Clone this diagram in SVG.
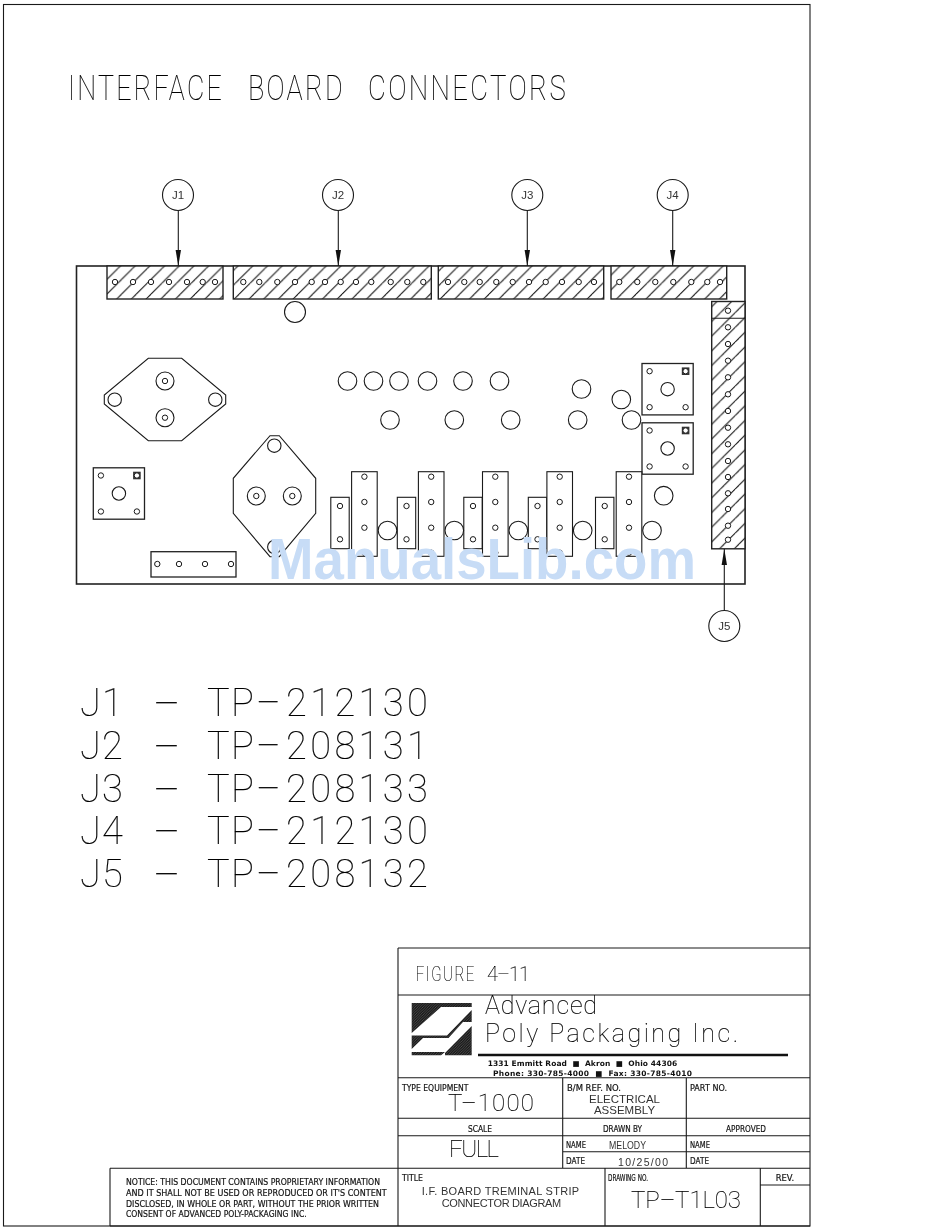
<svg xmlns="http://www.w3.org/2000/svg" width="950" height="1229" viewBox="0 0 950 1229">
<style>
.l{fill:none;stroke:#1a1a1a;stroke-width:1.1}
.b{fill:none;stroke:#222;stroke-width:1.6}
.w{fill:#fff;stroke:#1a1a1a;stroke-width:1.1}
.h{fill:url(#hatch);stroke:#222;stroke-width:1.4}
.d{fill:url(#fine)}
.thin{font-family:Roboto,"Liberation Sans",sans-serif;font-weight:100;fill:#000;stroke:#000;stroke-width:.15;white-space:pre;filter:url(#nop)}
.sans{font-family:"Liberation Sans",Arial,sans-serif;fill:#333;white-space:pre;filter:url(#nop)}
.cad{font-family:"DejaVu Sans",sans-serif;font-weight:400;fill:#111;stroke:#111;stroke-width:.2;white-space:pre;filter:url(#nop)}
.cadb{font-family:"DejaVu Sans",sans-serif;font-weight:700;fill:#111;white-space:pre;filter:url(#nop)}
.wm{font-family:"Liberation Sans",Arial,sans-serif;font-weight:700;fill:#c7dcf6}
.dash{font-size:42px}
.ls{letter-spacing:3px}
</style>
<defs>
<filter id="nop" x="-5%" y="-20%" width="110%" height="140%"><feOffset dx="0" dy="0"/></filter>
<pattern id="hatch" patternUnits="userSpaceOnUse" width="14.7" height="14.7"><rect width="14.7" height="14.7" fill="#fff"/><path d="M0 4.1L4.1 0M0 18.8L18.8 0" stroke="#111" stroke-width="1.1" fill="none"/></pattern>
<pattern id="fine" patternUnits="userSpaceOnUse" width="2.6" height="2.6"><rect width="2.6" height="2.6" fill="#1a1a1a"/><path d="M0 2.6L2.6 0" stroke="#777" stroke-width=".5"/></pattern>
<marker id="ah" markerUnits="userSpaceOnUse" markerWidth="16" markerHeight="6" refX="16" refY="3" orient="auto"><path d="M0 .3L16 3L0 5.7Z" fill="#111"/></marker>
<circle id="p" r="2.7" fill="#fff" stroke="#1a1a1a" stroke-width="1"/>
<circle id="c" r="9.3" fill="#fff" stroke="#1a1a1a" stroke-width="1.1"/>
<g id="co"><circle r="9" fill="#fff" stroke="#1a1a1a" stroke-width="1.1"/><circle r="2.7" fill="none" stroke="#1a1a1a" stroke-width="1"/></g>
<g id="sq"><rect x="-25.6" y="-25.7" width="51.2" height="51.4" fill="#fff" stroke="#222" stroke-width="1.3"/><use href="#p" x="-18" y="-18"/><use href="#p" x="-18" y="18"/><use href="#p" x="18" y="18"/><rect x="14.2" y="-21.8" width="7.6" height="7.6" fill="#333"/><use href="#p" x="18" y="-18"/><circle r="6.7" fill="#fff" stroke="#1a1a1a" stroke-width="1.1"/></g>
<g id="tall"><rect x="-12.8" y="-42.3" width="25.6" height="84.6" fill="#fff" stroke="#1a1a1a" stroke-width="1.1"/><use href="#p" y="-37.3"/><use href="#p" y="-12"/><use href="#p" y="13.7"/><use href="#p" y="38.7"/></g>
<g id="short"><rect x="-9.2" y="-25.7" width="18.4" height="51.4" fill="#fff" stroke="#1a1a1a" stroke-width="1.1"/><use href="#p" y="-17"/><use href="#p" y="16.3"/></g>
</defs>
<rect width="950" height="1229" fill="#fff"/>
<rect id="frame" x="3.5" y="4.5" width="806.5" height="1221.5" class="l"/>
<text id="heading" class="thin ls" y="100" font-size="35"><tspan x="68" textLength="156" lengthAdjust="spacingAndGlyphs">INTERFACE</tspan> <tspan x="248" textLength="97" lengthAdjust="spacingAndGlyphs">BOARD</tspan> <tspan x="368" textLength="200" lengthAdjust="spacingAndGlyphs">CONNECTORS</tspan></text>

<g id="board"><rect x="76.5" y="266" width="668.5" height="318" class="b"/></g>

<g id="part-q1"><path class="w" d="M104.3 395V404L148.3 440.7H181.7L225.7 404V395L181.7 358.3H148.3Z"/><circle cx="114.7" cy="399.7" r="6.7" class="l"/><circle cx="215.3" cy="399.7" r="6.7" class="l"/><use href="#co" x="165" y="381"/><use href="#co" x="165" y="417.7"/></g>
<g id="part-q2"><path class="w" d="M270 435.7H279.3L315.7 478.3V513.3L279.3 556.7H270L233.3 513.3V478.3Z"/><circle cx="274.3" cy="445.7" r="6.7" class="l"/><circle cx="274.3" cy="547" r="6.7" class="l"/><use href="#co" x="256.3" y="496"/><use href="#co" x="292.3" y="496"/></g>
<g id="part-sq1"><use href="#sq" x="118.9" y="493.5"/></g>
<g id="part-sq2"><use href="#sq" x="667.6" y="389.2"/></g>
<g id="part-sq3"><use href="#sq" x="667.6" y="448.5"/></g>
<g id="part-strip"><rect x="151" y="551.7" width="85" height="25.3" fill="#fff" stroke="#222" stroke-width="1.3"/><use href="#p" x="157.3" y="564"/><use href="#p" x="179" y="564"/><use href="#p" x="205" y="564"/><use href="#p" x="231" y="564"/></g>

<g id="holes">
<use href="#c" x="347.5" y="381"/><use href="#c" x="373.5" y="381"/><use href="#c" x="399" y="381"/><use href="#c" x="427.5" y="381"/><use href="#c" x="463" y="381"/><use href="#c" x="499.5" y="381"/>
<use href="#c" x="390" y="420"/><use href="#c" x="454.3" y="420"/><use href="#c" x="510.7" y="420"/><use href="#c" x="577.7" y="420"/><use href="#c" x="631.5" y="420"/>
<use href="#c" x="581.5" y="389"/><use href="#c" x="621.3" y="399.5"/><use href="#c" x="663.7" y="495.7"/>
<circle cx="295" cy="312" r="10.5" class="w"/>
</g>
<g id="parts-short">
<use href="#short" x="340" y="523"/><use href="#short" x="406.5" y="523"/><use href="#short" x="473" y="523"/><use href="#short" x="537.5" y="523"/><use href="#short" x="604.7" y="523"/>
</g>
<g id="parts-bottom-holes">
<use href="#c" x="387.5" y="530.5"/><use href="#c" x="454.3" y="530.5"/><use href="#c" x="518.3" y="530.5"/><use href="#c" x="582.7" y="530.5"/><use href="#c" x="652" y="530.5"/>
</g>
<g id="parts-tall">
<use href="#tall" x="364.4" y="514"/><use href="#tall" x="431.2" y="514"/><use href="#tall" x="495.3" y="514"/><use href="#tall" x="559.7" y="514"/><use href="#tall" x="629" y="514"/>
</g>

<g id="conn-J1"><rect x="107" y="266" width="116" height="33" class="h"/><use href="#p" x="115" y="282"/><use href="#p" x="133" y="282"/><use href="#p" x="151" y="282"/><use href="#p" x="169" y="282"/><use href="#p" x="187" y="282"/><use href="#p" x="202.7" y="282"/><use href="#p" x="215" y="282"/></g>
<g id="conn-J2"><rect x="233.3" y="266" width="198" height="33" class="h"/><use href="#p" x="243.3" y="282"/><use href="#p" x="259.3" y="282"/><use href="#p" x="277.3" y="282"/><use href="#p" x="295" y="282"/><use href="#p" x="311.7" y="282"/><use href="#p" x="325" y="282"/><use href="#p" x="340.7" y="282"/><use href="#p" x="356" y="282"/><use href="#p" x="371.3" y="282"/><use href="#p" x="390.7" y="282"/><use href="#p" x="407.3" y="282"/><use href="#p" x="423.3" y="282"/></g>
<g id="conn-J3"><rect x="438.3" y="266" width="165.4" height="33" class="h"/><use href="#p" x="448" y="282"/><use href="#p" x="464.3" y="282"/><use href="#p" x="479.7" y="282"/><use href="#p" x="496.3" y="282"/><use href="#p" x="512.7" y="282"/><use href="#p" x="529" y="282"/><use href="#p" x="545.7" y="282"/><use href="#p" x="562" y="282"/><use href="#p" x="578.7" y="282"/><use href="#p" x="594" y="282"/></g>
<g id="conn-J4"><rect x="611" y="266" width="115.7" height="33" class="h"/><use href="#p" x="619.3" y="282"/><use href="#p" x="637.3" y="282"/><use href="#p" x="655.3" y="282"/><use href="#p" x="673.3" y="282"/><use href="#p" x="691.3" y="282"/><use href="#p" x="707.3" y="282"/><use href="#p" x="720" y="282"/></g>
<g id="conn-J5"><rect x="711.7" y="301.5" width="33.3" height="247.3" class="h"/><path class="l" d="M711.7 318.3H745"/><use href="#p" x="728" y="310.7"/><use href="#p" x="728" y="327.3"/><use href="#p" x="728" y="344"/><use href="#p" x="728" y="360.7"/><use href="#p" x="728" y="377.3"/><use href="#p" x="728" y="394.3"/><use href="#p" x="728" y="411"/><use href="#p" x="728" y="427.7"/><use href="#p" x="728" y="444.3"/><use href="#p" x="728" y="461"/><use href="#p" x="728" y="477"/><use href="#p" x="728" y="493.3"/><use href="#p" x="728" y="509"/><use href="#p" x="728" y="525.7"/><use href="#p" x="728" y="539.7"/></g>

<g id="connectors">
<path class="l" marker-end="url(#ah)" d="M178.3 211V266"/>
<path class="l" marker-end="url(#ah)" d="M338.3 211V266"/>
<path class="l" marker-end="url(#ah)" d="M527.3 211V266"/>
<path class="l" marker-end="url(#ah)" d="M672.7 211V266"/>
<path class="l" marker-end="url(#ah)" d="M724.3 610V549"/>
</g>
<g id="callout-J1"><circle cx="178" cy="195" r="15.5" class="l"/><text class="sans" x="178" y="199.3" font-size="11.5" text-anchor="middle">J1</text></g>
<g id="callout-J2"><circle cx="338" cy="195" r="15.5" class="l"/><text class="sans" x="338" y="199.3" font-size="11.5" text-anchor="middle">J2</text></g>
<g id="callout-J3"><circle cx="527.3" cy="195" r="15.5" class="l"/><text class="sans" x="527.3" y="199.3" font-size="11.5" text-anchor="middle">J3</text></g>
<g id="callout-J4"><circle cx="672.7" cy="195" r="15.5" class="l"/><text class="sans" x="672.7" y="199.3" font-size="11.5" text-anchor="middle">J4</text></g>
<g id="callout-J5"><circle cx="724.3" cy="626" r="15.5" class="l"/><text class="sans" x="724.3" y="630.3" font-size="11.5" text-anchor="middle">J5</text></g>

<text id="wm" class="wm" x="268" y="579" font-size="57" textLength="428" lengthAdjust="spacingAndGlyphs">ManualsLib.com</text>

<g id="parts-list" font-size="38">
<text class="thin" y="716"><tspan x="80 102">J1</tspan> <tspan class="dash" x="153" dy="2">–</tspan> <tspan x="207 231 256 286 310.2 334.4 358.6 382.8 407" dy="-2">TP–212130</tspan></text>
<text class="thin" y="759"><tspan x="80 102">J2</tspan> <tspan class="dash" x="153" dy="2">–</tspan> <tspan x="207 231 256 286 310.2 334.4 358.6 382.8 407" dy="-2">TP–208131</tspan></text>
<text class="thin" y="801.7"><tspan x="80 102">J3</tspan> <tspan class="dash" x="153" dy="2">–</tspan> <tspan x="207 231 256 286 310.2 334.4 358.6 382.8 407" dy="-2">TP–208133</tspan></text>
<text class="thin" y="844.3"><tspan x="80 102">J4</tspan> <tspan class="dash" x="153" dy="2">–</tspan> <tspan x="207 231 256 286 310.2 334.4 358.6 382.8 407" dy="-2">TP–212130</tspan></text>
<text class="thin" y="886.7"><tspan x="80 102">J5</tspan> <tspan class="dash" x="153" dy="2">–</tspan> <tspan x="207 231 256 286 310.2 334.4 358.6 382.8 407" dy="-2">TP–208132</tspan></text>
</g>

<g id="title-block">
<path class="l" d="M398 948H810M398 995H810M398 1077.7H810M398 1118.3H810M398 1135.7H810M563 1151.7H810M110 1168.3H810M110 1226H810M398 948V1226M562.7 1077.7V1168.3M686.3 1077.7V1168.3M605 1168.3V1226M760.3 1168.3V1226M760.3 1185H810M110 1168.3V1226"/>
<text class="thin" y="980.7" font-size="20" style="letter-spacing:2px"><tspan x="415.7" textLength="60" lengthAdjust="spacingAndGlyphs">FIGURE</tspan> <tspan x="487" textLength="45" lengthAdjust="spacing">4–11</tspan></text>
<g id="logo">
<path class="d" d="M411.7 1003H471.7V1007H441L411.7 1033Z"/>
<path class="d" d="M471.7 1010V1022H463L448.5 1038H411.7V1035.5H447Z"/>
<path class="d" d="M411.7 1038H423L411.7 1049Z"/>
<path class="d" d="M411.7 1052H445L441 1055.3H411.7Z"/>
<path class="d" d="M471.7 1026V1055.3H445V1053Z"/>
</g>
<text class="thin" x="485" y="1014" font-size="25" textLength="112" lengthAdjust="spacing">Advanced</text>
<text class="thin" x="485" y="1041.7" font-size="25" textLength="253" lengthAdjust="spacing" xml:space="preserve">Poly Packaging Inc.</text>
<path d="M478 1055H788" stroke="#111" stroke-width="2.4"/>
<text class="cadb" x="487.7" y="1066" font-size="7.5" textLength="189.5" lengthAdjust="spacing" xml:space="preserve">1331 Emmitt Road  ■  Akron  ■  Ohio 44306</text>
<text class="cadb" x="493" y="1076" font-size="7.5" textLength="199" lengthAdjust="spacing" xml:space="preserve">Phone: 330-785-4000  ■  Fax: 330-785-4010</text>

<text class="cad" x="402" y="1090.5" font-size="9" textLength="66.5" lengthAdjust="spacingAndGlyphs">TYPE EQUIPMENT</text>
<text class="thin" x="448" y="1111" font-size="24" textLength="86" lengthAdjust="spacing">T–1000</text>
<text class="cad" x="567" y="1090.5" font-size="9" textLength="54" lengthAdjust="spacingAndGlyphs">B/M REF. NO.</text>
<text class="sans" x="624.5" y="1102.7" font-size="11.5" text-anchor="middle">ELECTRICAL</text>
<text class="sans" x="624.5" y="1114.3" font-size="11.5" text-anchor="middle">ASSEMBLY</text>
<text class="cad" x="690" y="1090.5" font-size="9" textLength="37" lengthAdjust="spacingAndGlyphs">PART NO.</text>
<text class="cad" x="468" y="1131.7" font-size="9" textLength="24" lengthAdjust="spacingAndGlyphs">SCALE</text>
<text class="cad" x="603" y="1131.7" font-size="9" textLength="39" lengthAdjust="spacingAndGlyphs">DRAWN BY</text>
<text class="cad" x="726" y="1131.7" font-size="9" textLength="40" lengthAdjust="spacingAndGlyphs">APPROVED</text>
<text class="thin" x="449" y="1156.7" font-size="24" textLength="50" lengthAdjust="spacing">FULL</text>
<text class="cad" x="566" y="1148" font-size="9" textLength="20" lengthAdjust="spacingAndGlyphs">NAME</text>
<text class="sans" x="609" y="1149" font-size="10.5" textLength="37" lengthAdjust="spacingAndGlyphs">MELODY</text>
<text class="cad" x="566" y="1164.3" font-size="9" textLength="19" lengthAdjust="spacingAndGlyphs">DATE</text>
<text class="sans" x="618" y="1165.7" font-size="10.5" textLength="50" lengthAdjust="spacing">10/25/00</text>
<text class="cad" x="690" y="1148" font-size="9" textLength="20" lengthAdjust="spacingAndGlyphs">NAME</text>
<text class="cad" x="690" y="1164.3" font-size="9" textLength="19" lengthAdjust="spacingAndGlyphs">DATE</text>
<text class="cad" x="402" y="1180.5" font-size="9" textLength="21" lengthAdjust="spacingAndGlyphs">TITLE</text>
<text class="sans" x="421.7" y="1195" font-size="11" textLength="157.5" lengthAdjust="spacing">I.F. BOARD TREMINAL STRIP</text>
<text class="sans" x="441.7" y="1206.7" font-size="11" textLength="119.5" lengthAdjust="spacing">CONNECTOR DIAGRAM</text>
<text class="cad" x="608" y="1180.5" font-size="9" textLength="40" lengthAdjust="spacingAndGlyphs">DRAWING NO.</text>
<text class="cad" x="775.7" y="1180.5" font-size="9" textLength="18.5" lengthAdjust="spacingAndGlyphs">REV.</text>
<text class="thin" x="631" y="1208" font-size="24" textLength="110" lengthAdjust="spacing">TP–T1L03</text>
</g>
<g id="notice">
<text class="cad" x="126" y="1185" font-size="9" textLength="254" lengthAdjust="spacingAndGlyphs">NOTICE: THIS DOCUMENT CONTAINS PROPRIETARY INFORMATION</text>
<text class="cad" x="126" y="1195.7" font-size="9" textLength="260.7" lengthAdjust="spacingAndGlyphs">AND IT SHALL NOT BE USED OR REPRODUCED OR IT'S CONTENT</text>
<text class="cad" x="126" y="1207" font-size="9" textLength="253" lengthAdjust="spacingAndGlyphs">DISCLOSED, IN WHOLE OR PART, WITHOUT THE PRIOR WRITTEN</text>
<text class="cad" x="126" y="1217.3" font-size="9" textLength="180.7" lengthAdjust="spacingAndGlyphs">CONSENT OF ADVANCED POLY-PACKAGING INC.</text>
</g>
</svg>
